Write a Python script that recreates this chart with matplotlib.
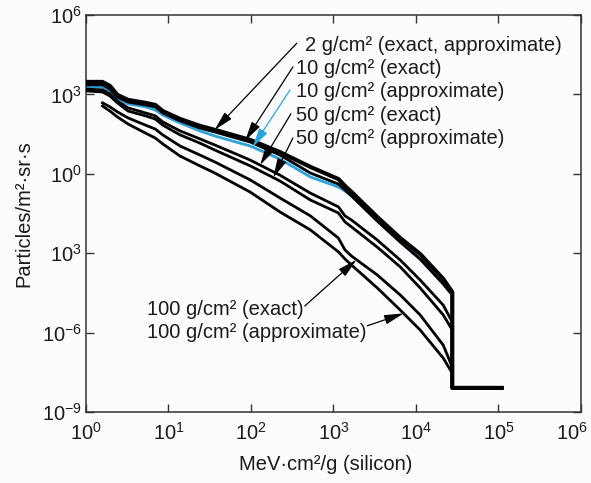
import numpy as np
import matplotlib
matplotlib.use('Agg')
import matplotlib.pyplot as plt
import matplotlib.transforms as mtransforms

plt.rcParams['font.family'] = ['Liberation Sans', 'DejaVu Sans']
plt.rcParams['mathtext.fontset'] = 'custom'
plt.rcParams['mathtext.rm'] = 'Liberation Sans'
plt.rcParams['mathtext.default'] = 'regular'

# LET grid, log10 of MeV cm2/g
let_log = [0.00, 0.20, 0.29, 0.38, 0.51, 0.72, 0.84, 0.93, 1.14, 1.38, 1.56,
           1.99, 2.35, 2.72, 3.06, 3.14, 3.22, 3.53, 3.81, 4.05, 4.33, 4.44]

# integral flux, log10 of particles/m2 sr s, per shielding depth
flux_2 = [3.47, 3.47, 3.32, 2.98, 2.79, 2.68, 2.60, 2.37, 2.07, 1.81, 1.66,
          1.28, 0.82, 0.26, -0.20, -0.46, -0.69, -1.63, -2.43, -3.03, -3.97, -4.47]
flux_10_exact = [3.36, 3.36, 3.20, 2.90, 2.71, 2.60, 2.53, 2.30, 2.00, 1.73, 1.58,
                 1.20, 0.71, 0.03, -0.39, -0.61, -0.84, -1.78, -2.58, -3.22, -4.16, -4.58]
flux_10_approx = [3.28, 3.28, 3.13, 2.83, 2.64, 2.53, 2.41, 2.22, 1.92, 1.62, 1.43,
                  1.05, 0.56, -0.12, -0.50, -0.65, -0.84, -1.78, -2.58, -3.22, -4.16, -4.58]
flux_50_exact = [3.20, 3.17, 3.02, 2.75, 2.49, 2.30, 2.19, 1.96, 1.62, 1.32, 1.09,
                 0.52, -0.05, -0.73, -1.25, -1.59, -1.75, -2.50, -3.26, -4.01, -4.96, -5.60]
flux_50_approx = [3.13, 3.09, 2.94, 2.68, 2.37, 2.19, 2.07, 1.84, 1.47, 1.16, 0.90,
                  0.30, -0.27, -0.99, -1.48, -1.82, -2.01, -2.77, -3.52, -4.31, -5.33, -5.90]
flux_100_exact = [np.nan, 2.68, 2.53, 2.34, 2.11, 1.84, 1.69, 1.47, 1.05, 0.71, 0.45,
                  -0.23, -0.91, -1.59, -2.43, -2.88, -3.11, -3.82, -4.58, -5.33, -6.47, -7.30]
flux_100_approx = [np.nan, 2.56, 2.37, 2.15, 1.88, 1.54, 1.35, 1.13, 0.67, 0.30, 0.03,
                   -0.69, -1.44, -2.12, -2.95, -3.22, -3.45, -4.31, -5.15, -5.90, -6.96, -7.53]

# cutoff drop and tail
tail_flux_log = -8.09
tail_end_log = 5.04

# (label, flux, LET at arrow tip, arrow start, text pos)
curves = [
    ('2 g/cm² (exact, approximate)', flux_2, 1.56, (0.426, 0.929), (0.442, 0.924)),
    ('10 g/cm² (exact)', flux_10_exact, 1.93, (0.418, 0.869), (0.424, 0.866)),
    ('10 g/cm² (approximate)', flux_10_approx, 2.02, (0.412, 0.811), (0.424, 0.806)),
    ('50 g/cm² (exact)', flux_50_exact, 2.11, (0.414, 0.751), (0.424, 0.748)),
    ('50 g/cm² (approximate)', flux_50_approx, 2.27, (0.418, 0.690), (0.424, 0.690)),
    ('100 g/cm² (exact)', flux_100_exact, 3.28, (0.442, 0.267), (0.123, 0.257)),
    ('100 g/cm² (approximate)', flux_100_approx, 3.85, (0.568, 0.217), (0.123, 0.199)),
]

blue = '#2ba3dc'
bg = '#fcfcfe'
fs = 14.5

fig = plt.figure(figsize=(5.91, 4.83), dpi=100, facecolor=bg)
ax = fig.add_axes([0.1455, 0.147, 0.8375, 0.822], facecolor=bg)

for i, (label, flux, tip, start, tpos) in enumerate(curves):
    x = np.array(let_log + [let_log[-1], tail_end_log])
    y = np.array(flux + [tail_flux_log, tail_flux_log])
    ok = ~np.isnan(y)
    color = blue if i == 2 else 'k'
    lw = 3.0 if i == 0 else 2.0
    z = 2 if i == 2 else 3
    ax.plot(10**x[ok], 10**y[ok], color=color, lw=lw, zorder=z, solid_joinstyle='round')

    # arrow from the label to the curve
    xl = np.array(let_log)[ok[:-2]]
    yl = np.array(flux)[ok[:-2]]
    tip_y = np.interp(tip, xl, yl)
    ax.annotate('', xy=(10**tip, 10**tip_y), xycoords='data',
                xytext=start, textcoords='axes fraction',
                arrowprops=dict(arrowstyle='-|>,head_length=0.9,head_width=0.22',
                                color=color, lw=0.9, shrinkA=0, shrinkB=0,
                                mutation_scale=13), zorder=4)
    ax.text(tpos[0], tpos[1], label, transform=ax.transAxes, fontsize=fs,
            ha='left', va='center', color='#1a1a1a')

ax.set_xscale('log')
ax.set_yscale('log')
ax.set_xlim(1, 1e6)
ax.set_ylim(1e-9, 1e6)

xticks = [1e0, 1e1, 1e2, 1e3, 1e4, 1e5, 1e6]
xlabels = ['$10^{0}$', '$10^{1}$', '$10^{2}$', '$10^{3}$', '$10^{4}$', '$10^{5}$', '$10^{6}$']
yticks = [1e-9, 1e-6, 1e-3, 1e0, 1e3, 1e6]
ylabels = ['$10^{-9}$', '$10^{-6}$', '$10^{3}$', '$10^{0}$', '$10^{3}$', '$10^{6}$']
ax.set_xticks(xticks)
ax.set_xticklabels(xlabels)
ax.set_yticks(yticks)
ax.set_yticklabels(ylabels)
ax.minorticks_off()
ax.tick_params(which='major', direction='in', length=6, width=1, top=True, right=True,
               labelsize=14.5, colors='#333333', labelcolor='#1a1a1a')
ax.tick_params(axis='x', pad=7)
ax.tick_params(axis='y', pad=3)
for s in ax.spines.values():
    s.set_linewidth(1.1)
    s.set_color('#333333')

# pull the last x tick label inside the figure edge
last = ax.get_xticklabels()[-1]
last.set_transform(last.get_transform() +
                   mtransforms.ScaledTranslation(-9 / 100, 0, fig.dpi_scale_trans))

ax.set_xlabel('MeV·cm²/g (silicon)', fontsize=14.5, color='#1a1a1a')
ax.set_ylabel('Particles/m²·sr·s', fontsize=14.5, color='#1a1a1a')
ax.xaxis.set_label_coords(0.485, -0.108)
ax.yaxis.set_label_coords(-0.107, 0.5)

fig.savefig('out.png', dpi=100, facecolor=bg)
